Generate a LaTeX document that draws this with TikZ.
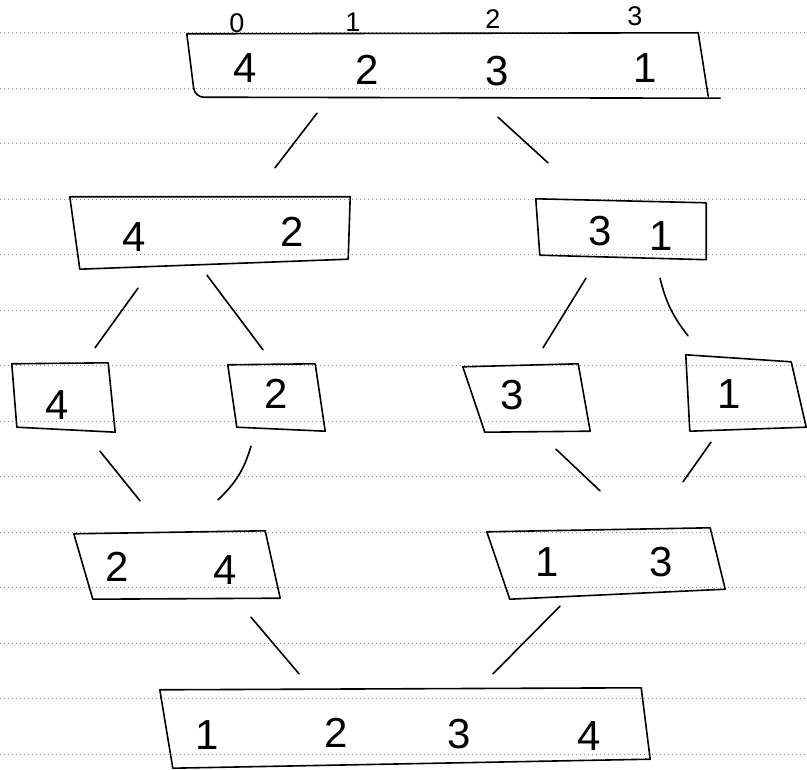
\documentclass[tikz,border=0pt]{standalone}
\usepackage{fontspec}
\setmainfont{Liberation Sans}
\usetikzlibrary{calc}
\newcommand\skbox[9]{%
  \draw[outline] ($(#1.north west)+(#2,#3)$) -- ($(#1.north east)+(#4,#5)$)
    -- ($(#1.south east)+(#6,#7)$) -- ($(#1.south west)+(#8,#9)$) -- cycle;}
\begin{document}
\begin{tikzpicture}[x=1pt,y=-1pt,
  box/.style={draw=none, rectangle, inner sep=0pt},
  outline/.style={line width=1.6pt, line join=round, line cap=round},
  digit/.style={font=\fontsize{42}{42}\selectfont, inner sep=0pt},
  idx/.style={font=\fontsize{27}{27}\selectfont, inner sep=0pt},
  link/.style={line width=1.6pt, line cap=round},
  rule/.style={black!45, line width=0.6pt, dash pattern=on 1pt off 3pt}]
\useasboundingbox (0,0) rectangle (807,770);
\fill[white] (0,0) rectangle (807,770);
% ruled paper
\foreach \k in {0,...,13}
  \draw[rule] (0,{32.5+55.5*\k}) -- (807,{32.5+55.5*\k});
% boxes
\node[box, minimum width=520pt, minimum height=63pt] (T) at (448,65.5) {};
\node[box, minimum width=282pt, minimum height=68pt] (L2a) at (209,231) {};
\node[box, minimum width=175pt, minimum height=59pt] (L2b) at (622,230) {};
\node[box, minimum width=100pt, minimum height=66pt] (L3a) at (63,397) {};
\node[box, minimum width=91pt, minimum height=65pt] (L3b) at (275,396.5) {};
\node[box, minimum width=119pt, minimum height=67pt] (L3c) at (525.5,398.5) {};
\node[box, minimum width=115pt, minimum height=71pt] (L3d) at (742.5,393.5) {};
\node[box, minimum width=202pt, minimum height=66pt] (L4a) at (176,565) {};
\node[box, minimum width=230pt, minimum height=64pt] (L4b) at (605,562) {};
\node[box, minimum width=488pt, minimum height=76pt] (B) at (404,728) {};
% sketched outlines
\draw[outline] ($(T.north east)+(-10,-1)$) -- ($(T.north west)+(-1,0)$)
  [rounded corners=9pt] -- ($(T.south west)+(7,0)$) -- ($(T.south east)+(12,1)$);
\draw[outline] ($(T.north east)+(-10,-1)$) -- ($(T.south east)+(0,-1)$);
\skbox{L2a}{2}{0}{0}{0}{-2}{-6}{12}{4}
\skbox{L2b}{1.5}{-1.5}{-3.5}{2.5}{-3.5}{0}{5.5}{-4.5}
\skbox{L3a}{-1}{0}{-5}{-1}{2}{2}{4}{-3}
\skbox{L3b}{-1.5}{1}{-5.5}{0}{4.5}{2}{7.5}{-2}
\skbox{L3c}{-3}{2}{-7}{-1}{5}{-1}{19}{0}
\skbox{L3d}{1}{-3}{-9}{4}{6}{-2}{5}{2}
\skbox{L4a}{-1}{2}{-12}{-1}{3}{0}{18}{1}
\skbox{L4b}{-3}{2}{-10}{-2}{5}{-5}{20}{5}
\skbox{B}{0}{0}{-7}{-2}{2}{-7}{13}{2}
% indices
\node[idx] (i0) at (237,23) {0};
\node[idx] (i1) at (353,22) {1};
\node[idx] (i2) at (493,19) {2};
\node[idx] (i3) at (635,16) {3};
% digits
\node[digit] (t4) at (245,68) {4};
\node[digit] (t2) at (367,70) {2};
\node[digit] (t3) at (497,71) {3};
\node[digit] (t1) at (645,68) {1};
\node[digit] (a4) at (134,237) {4};
\node[digit] (a2) at (292,232) {2};
\node[digit] (b3) at (600,231) {3};
\node[digit] (b1) at (661,236) {1};
\node[digit] (c4) at (57,405) {4};
\node[digit] (c2) at (276,394) {2};
\node[digit] (c3) at (512,395) {3};
\node[digit] (c1) at (729,394) {1};
\node[digit] (e2) at (117,567) {2};
\node[digit] (e4) at (225,570) {4};
\node[digit] (f1) at (547,562) {1};
\node[digit] (f3) at (661,562) {3};
\node[digit] (g1) at (207,735) {1};
\node[digit] (g2) at (336,733) {2};
\node[digit] (g3) at (459,734) {3};
\node[digit] (g4) at (589,736) {4};
% connectors
\draw[link] ($(T.south)+(-131,16)$) -- ($(L2a.north)+(66,-29)$);
\draw[link] ($(T.south)+(50,20)$) -- ($(L2b.north)+(-74,-37.5)$);
\draw[link] ($(L2a.south)+(-71,23)$) -- ($(L3a.north)+(32,-16)$);
\draw[link] ($(L2a.south)+(-2,10)$) -- ($(L3b.north)+(-12,-14)$);
\draw[link] ($(L2b.south)+(-36,18.5)$) -- ($(L3c.north)+(17.5,-17)$);
\draw[link] ($(L2b.south)+(38,18.5)$) to[bend right=12] ($(L3d.north)+(-54.5,-22)$);
\draw[link] ($(L3a.south)+(37,21)$) -- ($(L4a.north)+(-36,-31)$);
\draw[link] ($(L3b.south)+(-24,17)$) to[bend left=15] ($(L4a.north)+(42,-32)$);
\draw[link] ($(L3c.south)+(30.5,17)$) -- ($(L4b.north)+(-5,-39)$);
\draw[link] ($(L3d.south)+(-31.5,13)$) -- ($(L4b.north)+(78,-48)$);
\draw[link] ($(L4a.south)+(75,19)$) -- ($(B.north)+(-105,-16)$);
\draw[link] ($(L4b.south)+(-45,12)$) -- ($(B.north)+(89,-16)$);
\end{tikzpicture}
\end{document}
